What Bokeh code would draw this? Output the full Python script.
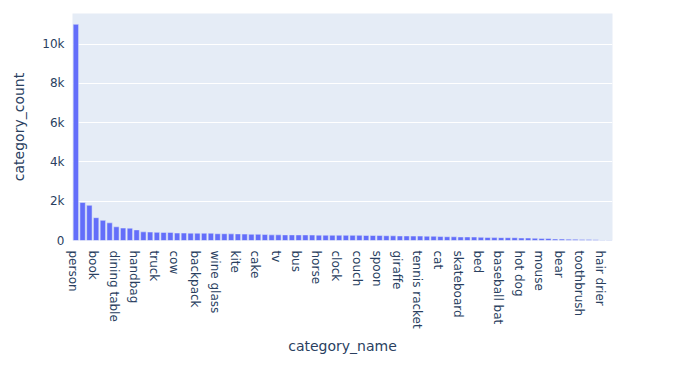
import math
from bokeh.plotting import figure
from bokeh.models import FixedTicker, Range1d, ColumnDataSource
from bokeh.embed import file_html
from bokeh.resources import INLINE

categories = [
    "person", "car", "chair", "book", "bottle", "cup", "dining table", "traffic light", "bowl", "handbag",
    "bird", "boat", "truck", "bench", "umbrella", "cow", "banana", "sheep", "backpack", "motorcycle",
    "carrot", "wine glass", "potted plant", "donut", "kite", "knife", "broccoli", "cake", "suitcase", "orange",
    "tv", "bicycle", "pizza", "bus", "remote", "vase", "horse", "surfboard", "zebra", "clock",
    "sports ball", "cell phone", "couch", "elephant", "tie", "spoon", "skis", "apple", "giraffe", "laptop",
    "sink", "tennis racket", "dog", "fork", "cat", "teddy bear", "train", "skateboard", "toilet", "sandwich",
    "bed", "keyboard", "baseball glove", "baseball bat", "airplane", "oven", "hot dog", "refrigerator", "frisbee", "mouse",
    "fire hydrant", "stop sign", "bear", "snowboard", "parking meter", "toothbrush", "microwave", "scissors", "hair drier", "toaster",
]
category_count = [
    11004, 1932, 1791, 1161, 1025, 899, 697, 634, 626, 540,
    440, 430, 415, 413, 413, 380, 379, 375, 371, 371,
    371, 343, 343, 338, 336, 326, 316, 316, 303, 287,
    288, 285, 285, 283, 283, 277, 273, 269, 268, 267,
    263, 262, 261, 255, 254, 253, 241, 239, 232, 231,
    225, 225, 218, 215, 202, 191, 190, 179, 179, 177,
    163, 153, 148, 146, 143, 143, 127, 126, 115, 106,
    101, 75, 71, 69, 60, 57, 55, 36, 11, 9,
]
y_ticks = [0, 2000, 4000, 6000, 8000, 10000]
y_tick_labels = ["0", "2k", "4k", "6k", "8k", "10k"]

idx = list(range(len(categories)))
src = ColumnDataSource(dict(x=idx, top=category_count, name=categories))

p = figure(width=681, height=365, output_backend="svg", toolbar_location=None,
           x_range=Range1d(-0.5, len(categories) - 0.5),
           y_range=Range1d(0, max(category_count) * 1.05),
           min_border_left=72, min_border_right=69, min_border_top=13, min_border_bottom=125)
p.outline_line_color = None
p.background_fill_color = "#E5ECF6"
p.border_fill_color = "white"

p.vbar(x="x", top="top", width=0.8, source=src, fill_color="#636EFA", line_color="#E5ECF6", line_width=0.5)

font = "DejaVu Sans"
col = "#2a3f5f"

label_shift = 0.4
shown = [i - label_shift for i in idx[::3]]
p.xaxis.ticker = FixedTicker(ticks=shown)
p.xaxis.major_label_overrides = {t: categories[i] for t, i in zip(shown, idx[::3])}
p.xaxis.major_label_orientation = -math.pi / 2
p.xaxis.axis_label = "category_name"

p.yaxis.ticker = FixedTicker(ticks=y_ticks)
p.yaxis.major_label_overrides = {t: l for t, l in zip(y_ticks, y_tick_labels)}
p.yaxis.axis_label = "category_count"

for ax in (p.xaxis[0], p.yaxis[0]):
    ax.axis_line_color = None
    ax.major_tick_line_color = None
    ax.minor_tick_line_color = None
    ax.major_label_text_font = font
    ax.major_label_text_font_size = "12px"
    ax.major_label_text_color = col
    ax.axis_label_text_font = font
    ax.axis_label_text_font_size = "14px"
    ax.axis_label_text_color = col
    ax.axis_label_text_font_style = "normal"

p.xaxis.major_label_standoff = 4
p.yaxis.major_label_standoff = 2
p.xaxis.axis_label_standoff = 6
p.yaxis.axis_label_standoff = 12

p.xgrid.grid_line_color = None
p.ygrid.grid_line_color = "white"
p.ygrid.grid_line_width = 1

open("out.html", "w").write(file_html(p, INLINE))
